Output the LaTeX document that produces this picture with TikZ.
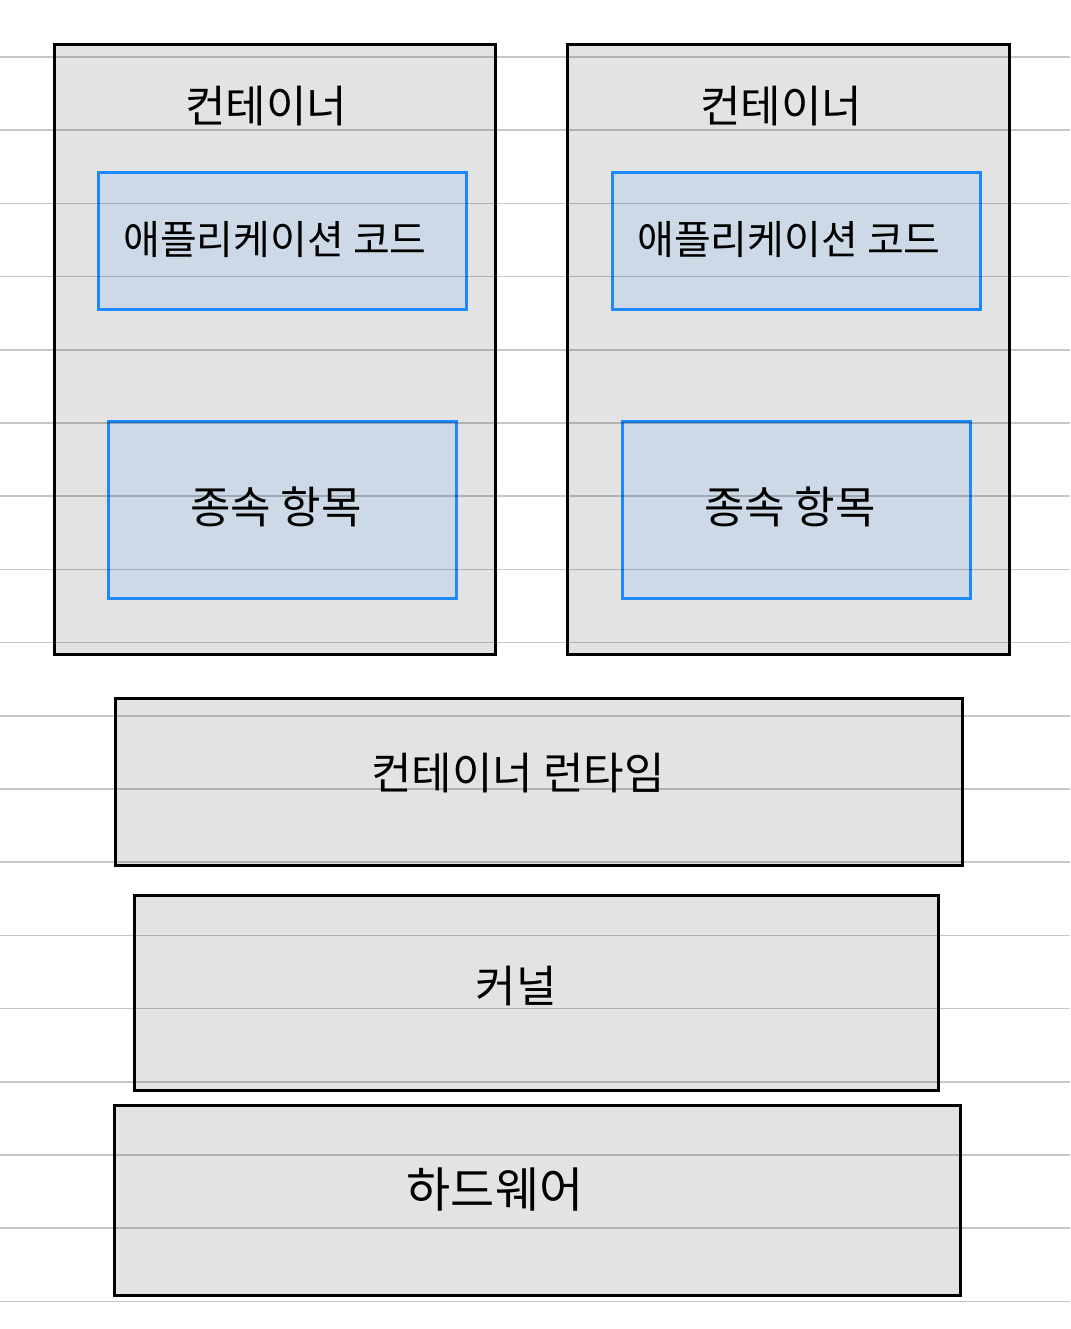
\documentclass[tikz,border=0pt]{standalone}
\usepackage{fontspec}
\newfontfamily\krfont{Noto Sans CJK KR}
\usetikzlibrary{%
    backgrounds,
    positioning
}
\definecolor{boxgrey}{HTML}{E3E3E3}
\definecolor{partfill}{HTML}{CDD9E6}
\definecolor{partline}{HTML}{1E88FF}
\tikzset{layerbox/.style = {draw=black, fill=boxgrey, line width=2.6pt,
                            inner sep=0pt, anchor=north west}}
\tikzset{partbox/.style = {draw=partline, fill=partfill, line width=2.6pt,
                           inner sep=0pt, anchor=north west}}
\tikzset{handtext/.style = {font=\krfont\fontsize{44}{50}\selectfont, inner sep=0pt}}

\begin{document}
\begin{tikzpicture}[x=1pt, y=-1pt]
    \useasboundingbox (0,0) rectangle (1070,1329);

    % two containers
    \node (cont1) [layerbox, minimum width=441pt, minimum height=610pt] at (53,43) {};
    \node (cont2) [layerbox, minimum width=442pt, minimum height=610pt] at (566,43) {};
    \node (cont1lbl) [handtext] at (266,106) {컨테이너};
    \node (cont2lbl) [handtext] at (781,106) {컨테이너};

    \node (app1) [partbox, minimum width=368pt, minimum height=137pt] at (97,171) {};
    \node (app2) [partbox, minimum width=368pt, minimum height=137pt] at (611,171) {};
    \node [handtext, font=\krfont\fontsize{40}{46}\selectfont] at (275,240) {애플리케이션\ 코드};
    \node [handtext, font=\krfont\fontsize{40}{46}\selectfont] at (789,240) {애플리케이션\ 코드};

    \node (dep1) [partbox, minimum width=348pt, minimum height=177pt] at (107,420) {};
    \node (dep2) [partbox, minimum width=348pt, minimum height=177pt] at (621,420) {};
    \node [handtext] at (276,507) {종속\ 항목};
    \node [handtext] at (790,507) {종속\ 항목};

    % lower layers
    \node (runtime) [layerbox, minimum width=847pt, minimum height=167pt] at (114,697) {};
    \node (kernel) [layerbox, minimum width=804pt, minimum height=195pt] at (133,894) {};
    \node (hw) [layerbox, minimum width=846pt, minimum height=190pt] at (113,1104) {};
    \node (runtimelbl) [handtext] at (518,773) {컨테이너\ 런타임};
    \node (kernellbl) [handtext] at (516,986) {커널};
    \node (hwlbl) [handtext, font=\krfont\fontsize{48}{54}\selectfont] at (495,1190) {하드웨어};

    % ruled paper
    \foreach \Row in {0,...,17}
        \draw[black, opacity=.22, line width=1.5pt] (0,57+73.2*\Row) -- (1070,57+73.2*\Row);
\end{tikzpicture}
\end{document}
